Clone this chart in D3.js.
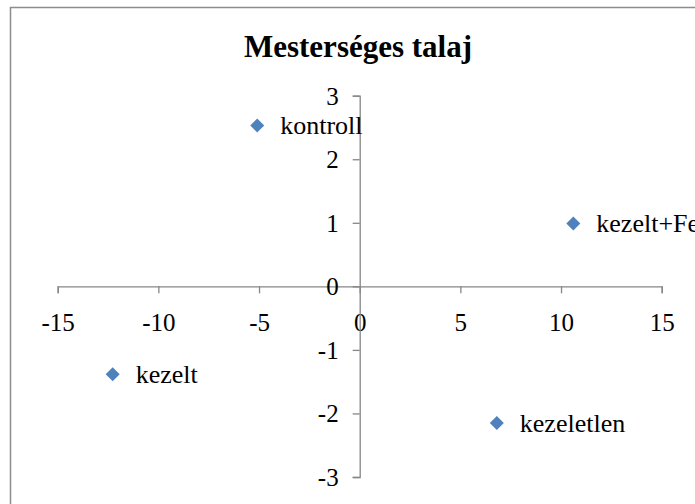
<!DOCTYPE html>
<html>
<head>
<meta charset="utf-8">
<script src="https://cdn.jsdelivr.net/npm/d3@7"></script>
<style>
  html, body { margin: 0; padding: 0; background: #fff; }
  svg { display: block; }
  text { font-family: "Liberation Serif", "Times New Roman", serif; fill: #000; }
</style>
</head>
<body>
<svg id="chart" width="695" height="504"></svg>
<script>
// Treatment groups and their coordinates
const groups = ["kontroll", "kezelt+Fe", "kezelt", "kezeletlen"];
const xValues = [-5.09, 10.61, -12.27, 6.81];
const yValues = [2.53, 0.99, -1.385, -2.15];
const xTicks = [-15, -10, -5, 0, 5, 10, 15];
const yTicks = [-3, -2, -1, 0, 1, 2, 3];
const title = "Mesterséges talaj";

const points = groups.map((g, i) => ({ name: g, x: xValues[i], y: yValues[i] }));

const svg = d3.select("#chart");

// chart frame
svg.append("rect")
  .attr("x", 10.5).attr("y", 7.5)
  .attr("width", 720).attr("height", 520)
  .attr("fill", "#fff")
  .attr("stroke", "#8c8c8c")
  .attr("stroke-width", 1.5);

svg.append("text")
  .attr("x", 358).attr("y", 57)
  .attr("text-anchor", "middle")
  .style("font-size", "31px")
  .style("font-weight", "bold")
  .text(title);

const x = d3.scaleLinear().domain([-15, 15]).range([57.7, 661.7]);
const y = d3.scaleLinear().domain([-3, 3]).range([477, 95.7]);

const axisColor = "#868686";
// plain hyphen for negative numbers
const fmt = d => String(d);

// horizontal axis through y = 0
const gx = svg.append("g")
  .attr("transform", `translate(0,${y(0)})`)
  .call(d3.axisBottom(x).tickValues(xTicks).tickSize(7).tickPadding(20).tickFormat(fmt));

// vertical axis through x = 0
const gy = svg.append("g")
  .attr("transform", `translate(${x(0)},0)`)
  .call(d3.axisLeft(y).tickValues(yTicks).tickSize(7).tickPadding(14).tickFormat(fmt));

[gx, gy].forEach(g => {
  g.select(".domain").attr("stroke", axisColor).attr("stroke-width", 1.3);
  g.selectAll(".tick line").attr("stroke", axisColor).attr("stroke-width", 1.3);
  g.selectAll(".tick text")
    .style("font-family", "'Liberation Serif', 'Times New Roman', serif")
    .style("font-size", "25px")
    .attr("fill", "#000");
});
gx.selectAll(".tick text").attr("dy", "0.71em");
gy.selectAll(".tick text").attr("dy", "0.34em");

// markers
const diamond = d3.symbol().type(d3.symbolDiamond2).size(125);
svg.append("g").selectAll("path")
  .data(points)
  .join("path")
  .attr("transform", d => `translate(${x(d.x)},${y(d.y)})`)
  .attr("d", diamond)
  .attr("fill", "#4F81BD");

// point labels
svg.append("g").selectAll("text")
  .data(points)
  .join("text")
  .attr("x", d => x(d.x) + 23)
  .attr("y", d => y(d.y))
  .attr("dy", "0.33em")
  .style("font-size", "26px")
  .text(d => d.name);
</script>
</body>
</html>
